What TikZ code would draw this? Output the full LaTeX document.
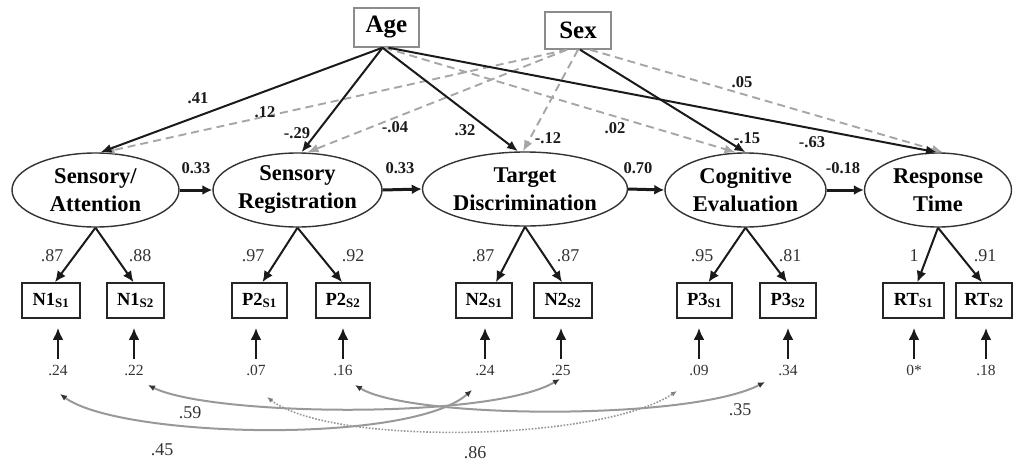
\documentclass[tikz,border=0pt]{standalone}
\usepackage{fontspec}
\setmainfont{Liberation Serif}
\usetikzlibrary{arrows.meta,shapes.geometric}
\definecolor{ink}{HTML}{1A1A1A}
\definecolor{faint}{HTML}{A6A6A6}
\definecolor{curve}{HTML}{999999}
\definecolor{numgray}{HTML}{333333}
\begin{document}
\begin{tikzpicture}[x=1pt,y=-1pt,
  latent/.style={ellipse,draw=black!80,line width=1.4pt,minimum height=74pt,inner sep=0pt,
    align=center,font=\fontsize{22.5}{28}\selectfont\bfseries},
  obs/.style={rectangle,draw=black!85,line width=1.7pt,minimum width=56pt,minimum height=35pt,
    inner sep=0pt,font=\fontsize{18.5}{20}\selectfont\bfseries},
  covar/.style={rectangle,draw=black!45,line width=1.4pt,inner sep=0pt,
    font=\fontsize{25}{28}\selectfont\bfseries},
  sem/.style={draw=ink,line width=2pt,-{Latex[length=11pt,width=9pt]}},
  semns/.style={draw=faint,line width=1.9pt,dash pattern=on 8pt off 5pt,-{Latex[length=11pt,width=9pt]}},
  chain/.style={draw=ink,line width=3pt,-{Latex[length=10pt,width=10pt]}},
  load/.style={draw=ink,line width=2pt,-{Latex[length=11pt,width=10pt]}},
  err/.style={draw=ink,line width=2.6pt,-{Latex[length=12pt,width=11pt]},shorten <=6pt,shorten >=9pt},
  corr/.style={draw=curve,line width=2pt,{Latex[length=7pt,width=6pt,black!80]}-{Latex[length=7pt,width=6pt,black!80]}},
  corrns/.style={draw=faint!90!black,line width=1.6pt,dash pattern=on 1.6pt off 1.6pt,{Latex[length=6pt,width=5pt,gray]}-{Latex[length=6pt,width=5pt,gray]}},
  blab/.style={inner sep=0pt,font=\fontsize{16.5}{18}\selectfont\bfseries,text=ink},
  llab/.style={inner sep=0pt,font=\fontsize{18}{20}\selectfont,text=numgray},
  elab/.style={inner sep=0pt,font=\fontsize{15.5}{17}\selectfont,text=numgray},
  clab/.style={inner sep=0pt,font=\fontsize{18}{20}\selectfont,text=numgray}
]
\useasboundingbox (0,0) rectangle (1013,464);

% covariates
\node[covar,minimum width=65pt,minimum height=39pt] (age) at (386.5,27.5) {Age};
\node[covar,minimum width=66pt,minimum height=37pt] (sex) at (578,30.5) {Sex};

% latent stages
\node[latent,minimum width=167pt] (att) at (95.5,190) {Sensory/\\Attention};
\node[latent,minimum width=169pt] (reg) at (297.5,190) {Sensory\\Registration};
\node[latent,minimum width=205pt] (tar) at (525,189) {Target\\Discrimination};
\node[latent,minimum width=161pt] (cog) at (745.5,190) {Cognitive\\Evaluation};
\node[latent,minimum width=147pt] (rsp) at (938,190) {Response\\Time};

% indicators
\node[obs,minimum width=58pt] (n11) at (51,300.5) {N1\textsubscript{S1}};
\node[obs,minimum width=57pt] (n12) at (135.5,300.5) {N1\textsubscript{S2}};
\node[obs,minimum width=55pt] (p21) at (259.5,300.5) {P2\textsubscript{S1}};
\node[obs,minimum width=54pt] (p22) at (343,300.5) {P2\textsubscript{S2}};
\node[obs,minimum width=56pt] (n21) at (484,300.5) {N2\textsubscript{S1}};
\node[obs,minimum width=58pt] (n22) at (563,300.5) {N2\textsubscript{S2}};
\node[obs,minimum width=55pt] (p31) at (704.5,300.5) {P3\textsubscript{S1}};
\node[obs,minimum width=56pt] (p32) at (788,300.5) {P3\textsubscript{S2}};
\node[obs,minimum width=61pt] (rt1) at (913.5,300.5) {RT\textsubscript{S1}};
\node[obs,minimum width=56pt] (rt2) at (984,300.5) {RT\textsubscript{S2}};

% residual variances
\node[elab] (e11) at (58,370) {.24};
\node[elab] (e12) at (134,370) {.22};
\node[elab] (e21) at (256,370) {.07};
\node[elab] (e22) at (343,370) {.16};
\node[elab] (e31) at (485,370) {.24};
\node[elab] (e32) at (561,370) {.25};
\node[elab] (e41) at (699,370) {.09};
\node[elab] (e42) at (788,370) {.34};
\node[elab] (e51) at (914,370) {0*};
\node[elab] (e52) at (986,370) {.18};
\foreach \e/\b in {e11/n11,e12/n12,e21/p21,e22/p22,e31/n21,e32/n22,e41/p31,e42/p32,e51/rt1,e52/rt2}
  \draw[err] (\e.north) -- (\e.north |- \b.south);

% loadings
\draw[load] (att.south) -- ([xshift=4pt]n11.north);
\draw[load] (att.south) -- ([xshift=-2pt]n12.north);
\draw[load] (reg.south) -- ([xshift=3pt]p21.north);
\draw[load] (reg.south) -- ([xshift=-1pt]p22.north);
\draw[load] (tar.south) -- ([xshift=12pt]n21.north);
\draw[load] (tar.south) -- ([xshift=-1pt]n22.north);
\draw[load] (cog.south) -- ([xshift=4pt]p31.north);
\draw[load] (cog.south) -- ([xshift=-1pt]p32.north);
\draw[load] (rsp.south) -- ([xshift=4pt]rt1.north);
\draw[load] (rsp.south) -- ([xshift=-2pt]rt2.north);
\node[llab] (l1) at (52,256) {.87};
\node[llab] (l2) at (140,256) {.88};
\node[llab] (l3) at (253,256) {.97};
\node[llab] (l4) at (353,256) {.92};
\node[llab] (l5) at (483,256) {.87};
\node[llab] (l6) at (568,256) {.87};
\node[llab] (l7) at (702,256) {.95};
\node[llab] (l8) at (790,256) {.81};
\node[llab] (l9) at (914,256) {1};
\node[llab] (l10) at (985,256) {.91};

% processing chain
\draw[chain] (att.east) -- (reg.west);
\draw[chain] (reg.east) -- (tar.west);
\draw[chain] (tar.east) -- (cog.west);
\draw[chain] (cog.east) -- (rsp.west);
\node[blab] (s1) at (196,168) {0.33};
\node[blab] (s2) at (400,168) {0.33};
\node[blab] (s3) at (638,168) {0.70};
\node[blab] (s4) at (843,168) {-0.18};

% non-significant covariate paths
\draw[semns] ([xshift=-11pt]sex.south) -- ([xshift=8pt]att.north);
\draw[semns] ([xshift=-11pt]sex.south) -- ([xshift=10pt]reg.north);
\draw[semns] (sex.south) -- ([xshift=-2pt]tar.north);
\draw[semns] ([xshift=12pt]sex.south) -- ([xshift=5pt]rsp.north);
\draw[semns] ([xshift=-2pt]age.south) -- ([xshift=-10pt]cog.north);

% significant covariate paths
\draw[sem] ([xshift=-4pt]age.south) -- ([xshift=5pt]att.north);
\draw[sem] ([xshift=-4pt]age.south) -- ([xshift=4pt]reg.north);
\draw[sem] ([xshift=-4pt]age.south) -- ([xshift=-7pt]tar.north);
\draw[sem] ([xshift=2pt]age.south) -- ([xshift=-1pt]rsp.north);
\draw[sem] ([xshift=2pt]sex.south) -- (cog.north);

\node[blab] (a1) at (198,98) {.41};
\node[blab] (a2) at (265,112) {.12};
\node[blab] (a3) at (297,133) {-.29};
\node[blab] (a4) at (395,127) {-.04};
\node[blab] (a5) at (465,130) {.32};
\node[blab] (a6) at (548,138) {-.12};
\node[blab] (a7) at (615,128) {.02};
\node[blab] (a8) at (747,138) {-.15};
\node[blab] (a9) at (812,142) {-.63};
\node[blab] (a10) at (742,82) {.05};

% residual correlations
\coordinate (r1a) at (60,394);  \coordinate (r1b) at (472,390);
\coordinate (r2a) at (148,385); \coordinate (r2b) at (560,379);
\coordinate (r3a) at (355,385); \coordinate (r3b) at (765,382);
\coordinate (r4a) at (267,397); \coordinate (r4b) at (677,391);
\draw[corrns] (r4a) .. controls (330,446) and (600,442) .. (r4b);
\draw[corr] (r1a) .. controls (120,438) and (410,445) .. (r1b);
\draw[corr] (r2a) .. controls (210,416) and (490,420) .. (r2b);
\draw[corr] (r3a) .. controls (410,419) and (690,421) .. (r3b);
\node[clab] (k1) at (162,450) {.45};
\node[clab] (k2) at (190,413) {.59};
\node[clab] (k3) at (740,410) {.35};
\node[clab] (k4) at (475,453) {.86};
\end{tikzpicture}
\end{document}
